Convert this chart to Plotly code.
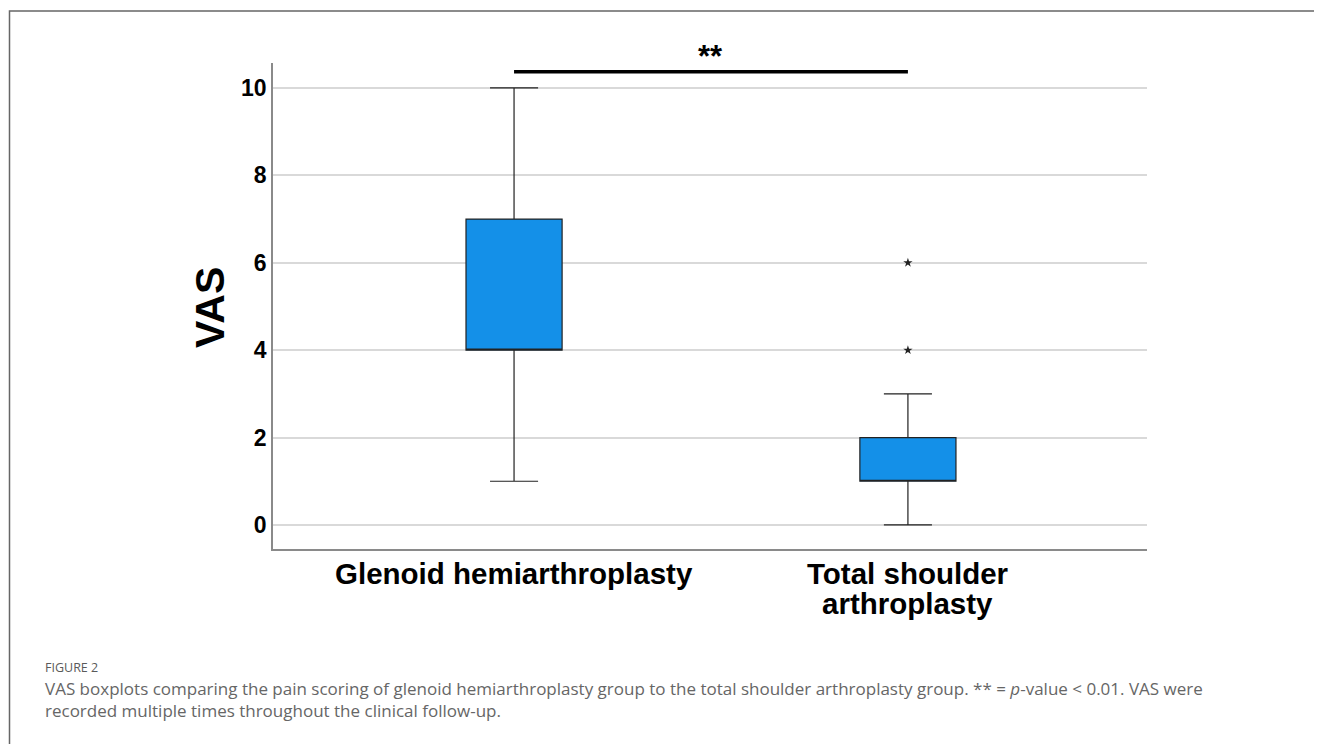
import plotly.graph_objects as go

# ---- data ----
groups = ["Glenoid hemiarthroplasty", "Total shoulder<br>arthroplasty"]
group_pos = [0, 1]
mins = [1, 0]
q1s = [4, 1]
medians = [4, 1]
q3s = [7, 2]
maxs = [10, 3]
outlier_x = [1, 1]
outlier_y = [4, 6]
y_ticks = [0, 2, 4, 6, 8, 10]
y_title = "VAS"
sig_label = "**"
caption_title = "FIGURE 2"
caption_lines = [
    "VAS boxplots comparing the pain scoring of glenoid hemiarthroplasty group "
    "to the total shoulder arthroplasty group. ** = <i>p</i>-value < 0.01. VAS were",
    "recorded multiple times throughout the clinical follow-up.",
]

OFF = 8  # page body margin in the browser
W, H = 1322 - OFF, 744 - OFF
# plot area in reference-window pixels
RL, RR, RT, RB = 273, 1147, 63, 549
L, R, T, B = RL - OFF, RR - OFF, RT - OFF, RB - OFF
pw, ph = R - L, B - T

def px(x):
    """reference window x pixel -> paper"""
    return (x - OFF - L) / pw

def py(y):
    """reference window y pixel -> paper"""
    return (B - (y - OFF)) / ph

FONT = "Arial, 'Liberation Sans', sans-serif"
CAPFONT = "'Open Sans', sans-serif"

fig = go.Figure()
fig.add_trace(go.Box(
    x=group_pos, q1=q1s, median=medians, q3=q3s,
    lowerfence=mins, upperfence=maxs,
    width=0.244, whiskerwidth=0.5,
    fillcolor="#1490E8",
    line=dict(color="#222222", width=1.2),
    boxpoints=False, showlegend=False, hoverinfo="skip",
))
fig.add_trace(go.Scatter(
    x=outlier_x, y=outlier_y, mode="markers",
    marker=dict(symbol="star", size=7, color="#222222"),
    showlegend=False, hoverinfo="skip",
))

# significance bar
fig.add_shape(type="line", xref="x", yref="y", x0=group_pos[0], x1=group_pos[1],
              y0=10.37, y1=10.37, line=dict(color="black", width=3.5))
fig.add_annotation(x=(group_pos[0] + group_pos[1]) / 2, xref="x", y=py(56), yref="paper",
                   xanchor="center", yanchor="middle", text=f"<b>{sig_label}</b>",
                   showarrow=False, font=dict(family=FONT, size=31, color="black"))

# x category labels (drawn as annotations for tight line spacing)
for pos, g in zip(group_pos, groups):
    for i, line in enumerate(g.split("<br>")):
        fig.add_annotation(x=pos, xref="x", y=py(573 + 30 * i), yref="paper",
                           xanchor="center", yanchor="middle", text=f"<b>{line}</b>",
                           showarrow=False, font=dict(family=FONT, size=29.5, color="black"))

# y title
fig.add_annotation(x=px(210), y=py(308), xref="paper", yref="paper", textangle=-90,
                   xanchor="center", yanchor="middle",
                   text=f"<b>{y_title}</b>", showarrow=False,
                   font=dict(family=FONT, size=41, color="black"))

# outer frame
fig.add_shape(type="rect", xref="paper", yref="paper",
              x0=px(9.5), x1=px(1340), y0=py(770), y1=py(11),
              line=dict(color="#666666", width=1.5), layer="below")

# caption
fig.add_annotation(x=px(43), y=py(667), xref="paper", yref="paper", xanchor="left",
                   yanchor="middle", text=caption_title, showarrow=False,
                   font=dict(family=CAPFONT, size=12.5, color="#5a5a5a"))
fig.add_annotation(x=px(43), y=py(675), xref="paper", yref="paper", xanchor="left",
                   yanchor="top", align="left", text="<br>".join(caption_lines),
                   showarrow=False,
                   font=dict(family=CAPFONT, size=17, color="#666666"))

fig.update_layout(
    width=W, height=H,
    margin=dict(l=L, r=W - R, t=T, b=H - B, pad=0),
    plot_bgcolor="white", paper_bgcolor="white",
    xaxis=dict(
        range=[-0.612, 1.607], tickvals=group_pos, showticklabels=False,
        showgrid=False, zeroline=False, showline=True, linecolor="#8a8a8a", linewidth=1.5,
        ticks="",
    ),
    yaxis=dict(
        range=[-0.55, 10.57], tickvals=y_ticks, ticktext=[f"<b>{t}</b>" for t in y_ticks],
        tickfont=dict(family=FONT, size=23, color="black"),
        showgrid=True, gridcolor="#d9d9d9", gridwidth=1.5, zeroline=False,
        showline=True, linecolor="#8a8a8a", linewidth=1.5, ticks="",
    ),
)

fig.write_html("out.html")
